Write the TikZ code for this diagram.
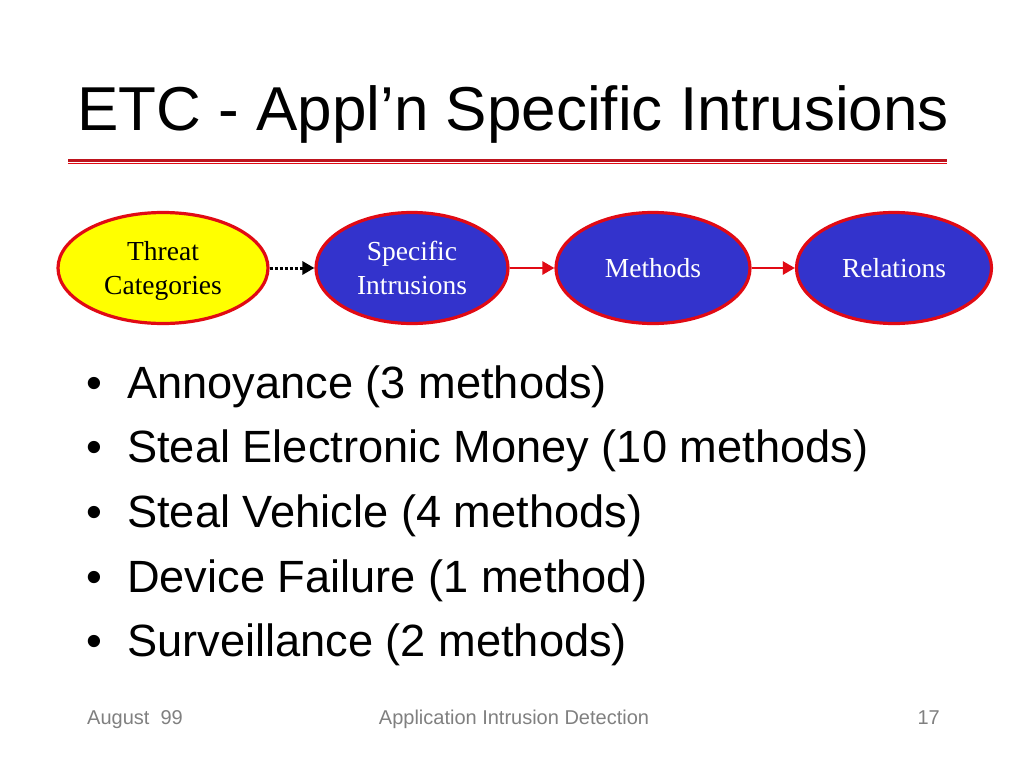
\documentclass[tikz,border=0pt]{standalone}
\usepackage{fontspec}
\setmainfont{Liberation Sans}
\newfontfamily\ovalfont{Liberation Serif}
\usetikzlibrary{shapes.geometric,arrows.meta}
\definecolor{ovalred}{RGB}{225,10,20}
\definecolor{ovalblue}{RGB}{51,51,204}
\definecolor{ovalyellow}{RGB}{255,255,0}
\definecolor{footgray}{RGB}{128,128,128}
\definecolor{ruledark}{RGB}{190,20,30}
\begin{document}
\begin{tikzpicture}[x=1pt,y=-1pt,
  oval/.style={ellipse, draw=ovalred, line width=3.2pt, inner sep=0pt,
    minimum height=111pt, align=center, text depth=0pt,
    font=\ovalfont\fontsize{27.5}{34}\selectfont},
  blueoval/.style={oval, fill=ovalblue, text=white},
  yellowoval/.style={oval, fill=ovalyellow, text=black},
  redarrow/.style={draw=ovalred, line width=2.6pt, -{Triangle[length=12pt,width=13pt]}},
  dotarrow/.style={draw=black, line width=3pt, dotted, -{Triangle[length=12pt,width=13pt]}},
  bultext/.style={anchor=base west, inner sep=0pt, font=\fontsize{45.2}{50}\selectfont},
  foot/.style={inner sep=0pt, text=footgray, font=\fontsize{20}{24}\selectfont}]
\useasboundingbox[fill=white] (0,0) rectangle (1024,768);

% title
\node[anchor=base west, inner sep=0pt, font=\fontsize{62}{70}\selectfont] (title) at (77,130.5) {ETC - Appl’n Specific Intrusions};
\draw[ruledark, line width=2.2pt] (68,160.5) -- (947,160.5);
\draw[ovalred, line width=1.2pt] (68,163.8) -- (947,163.8);

% ovals
\node[yellowoval, minimum width=210pt] (threat) at (163,268) {Threat\\Categories};
\node[blueoval, minimum width=192pt] (specific) at (412,268) {Specific\\Intrusions};
\node[blueoval, minimum width=194pt] (methods) at (653,268) {Methods};
\node[blueoval, minimum width=195pt] (relations) at (894,268) {Relations};

\draw[dotarrow] (threat.east) -- (specific.west);
\draw[redarrow] (specific.east) -- (methods.west);
\draw[redarrow] (methods.east) -- (relations.west);

% bullets
\foreach \i/\t in {0/{Annoyance (3 methods)},
                   1/{Steal Electronic Money (10 methods)},
                   2/{Steal Vehicle (4 methods)},
                   3/{Device Failure (1 method)},
                   4/{Surveillance (2 methods)}}{
  \node[bultext] (dot\i) at (86,398+64.7*\i) {•};
  \node[bultext] (item\i) at (127,398+64.7*\i) {\t};
}

% footer
\node[foot, anchor=base west] (date) at (87,724) {August\ \ 99};
\node[foot, anchor=base] (ftitle) at (514,724) {Application Intrusion Detection};
\node[foot, anchor=base east] (page) at (940,724) {17};
\end{tikzpicture}
\end{document}
